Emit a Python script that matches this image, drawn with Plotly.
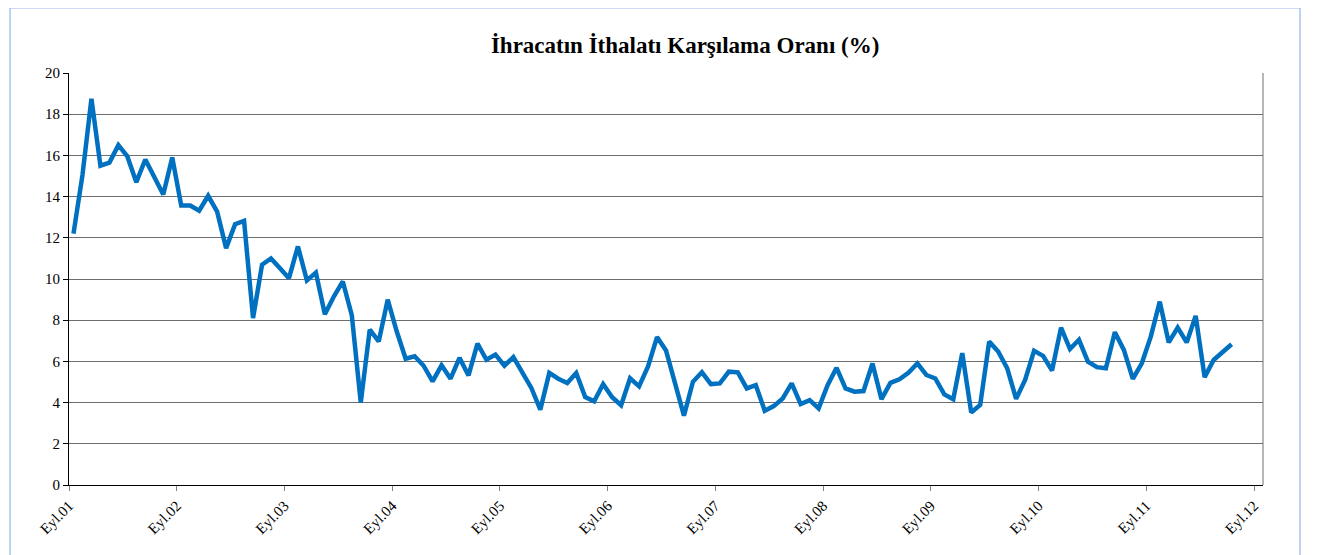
import plotly.graph_objects as go

# Monthly export/import coverage ratio (%), Sep 2001 .. Jun 2012
ratio = [
    12.2, 15.05, 18.75, 15.5, 15.65, 16.5, 15.95, 14.7, 15.8, 14.97, 14.1, 15.9,
    13.57, 13.57, 13.32, 14.04, 13.27, 11.5, 12.66, 12.82, 8.1, 10.69, 11.0, 10.52,
    10.04, 11.58, 9.93, 10.31, 8.29, 9.15, 9.88, 8.25, 4.0, 7.54, 6.97, 9.0,
    7.46, 6.13, 6.25, 5.79, 5.03, 5.81, 5.16, 6.17, 5.32, 6.86, 6.08, 6.33,
    5.79, 6.21, 5.44, 4.71, 3.66, 5.44, 5.16, 4.95, 5.44, 4.27, 4.06, 4.9,
    4.26, 3.87, 5.18, 4.79, 5.76, 7.18, 6.53, 4.95, 3.37, 5.01, 5.47, 4.9,
    4.93, 5.5, 5.47, 4.69, 4.85, 3.6, 3.83, 4.2, 4.93, 3.93, 4.12, 3.72,
    4.85, 5.69, 4.69, 4.53, 4.56, 5.9, 4.17, 4.96, 5.13, 5.45, 5.9, 5.34,
    5.17, 4.4, 4.16, 6.4, 3.52, 3.89, 6.96, 6.48, 5.67, 4.18, 5.1, 6.51,
    6.27, 5.56, 7.64, 6.6, 7.05, 5.99, 5.72, 5.67, 7.42, 6.56, 5.15, 5.91,
    7.2, 8.9, 6.92, 7.64, 6.92, 8.21, 5.23, 6.07, 6.43, 6.83,
]
tick_labels = ["Eyl.01", "Eyl.02", "Eyl.03", "Eyl.04", "Eyl.05", "Eyl.06",
               "Eyl.07", "Eyl.08", "Eyl.09", "Eyl.10", "Eyl.11", "Eyl.12"]
n_categories = 133  # Sep 2001 .. Sep 2012 category slots

x = [i + 0.5 for i in range(len(ratio))]
tick_vals = [12 * k for k in range(len(tick_labels))]

fig = go.Figure()
fig.add_trace(go.Scatter(
    x=x, y=ratio, mode="lines",
    line=dict(color="#0070C0", width=4.5),
    hoverinfo="y", showlegend=False,
))

font = dict(family="Liberation Serif, Times New Roman, serif", color="black")

fig.update_layout(
    width=1311, height=547,
    margin=dict(l=61, r=56, t=65, b=70),
    paper_bgcolor="white", plot_bgcolor="white",
    title=dict(
        text="<b>İhracatın İthalatı Karşılama Oranı (%)</b>",
        font=dict(size=23, **font),
        x=0.5165, xanchor="center", y=0.932, yanchor="middle",
    ),
    xaxis=dict(
        range=[0, n_categories],
        tickmode="array", tickvals=tick_vals, ticktext=tick_labels,
        tickangle=-45, tickfont=dict(size=15, **font),
        showgrid=False, zeroline=False,
        showline=True, linecolor="black", linewidth=1.2,
        ticks="outside", ticklen=5, tickcolor="#808080",
    ),
    yaxis=dict(
        range=[0, 20], dtick=2,
        tickfont=dict(size=15, **font),
        showgrid=True, gridcolor="#6e6e6e", gridwidth=1,
        zeroline=False,
        showline=True, linecolor="black", linewidth=1.2,
        ticks="outside", ticklen=5, tickcolor="black",
    ),
    shapes=[
        dict(type="line", xref="paper", yref="paper", x0=1, x1=1, y0=0, y1=1,
             line=dict(color="#6e6e6e", width=1)),
        dict(type="rect", xref="paper", yref="paper",
             x0=-0.0494, x1=1.031, y0=-0.19, y1=1.158,
             line=dict(color="#7DA7E8", width=1)),
    ],
)

fig.write_html("out.html")
